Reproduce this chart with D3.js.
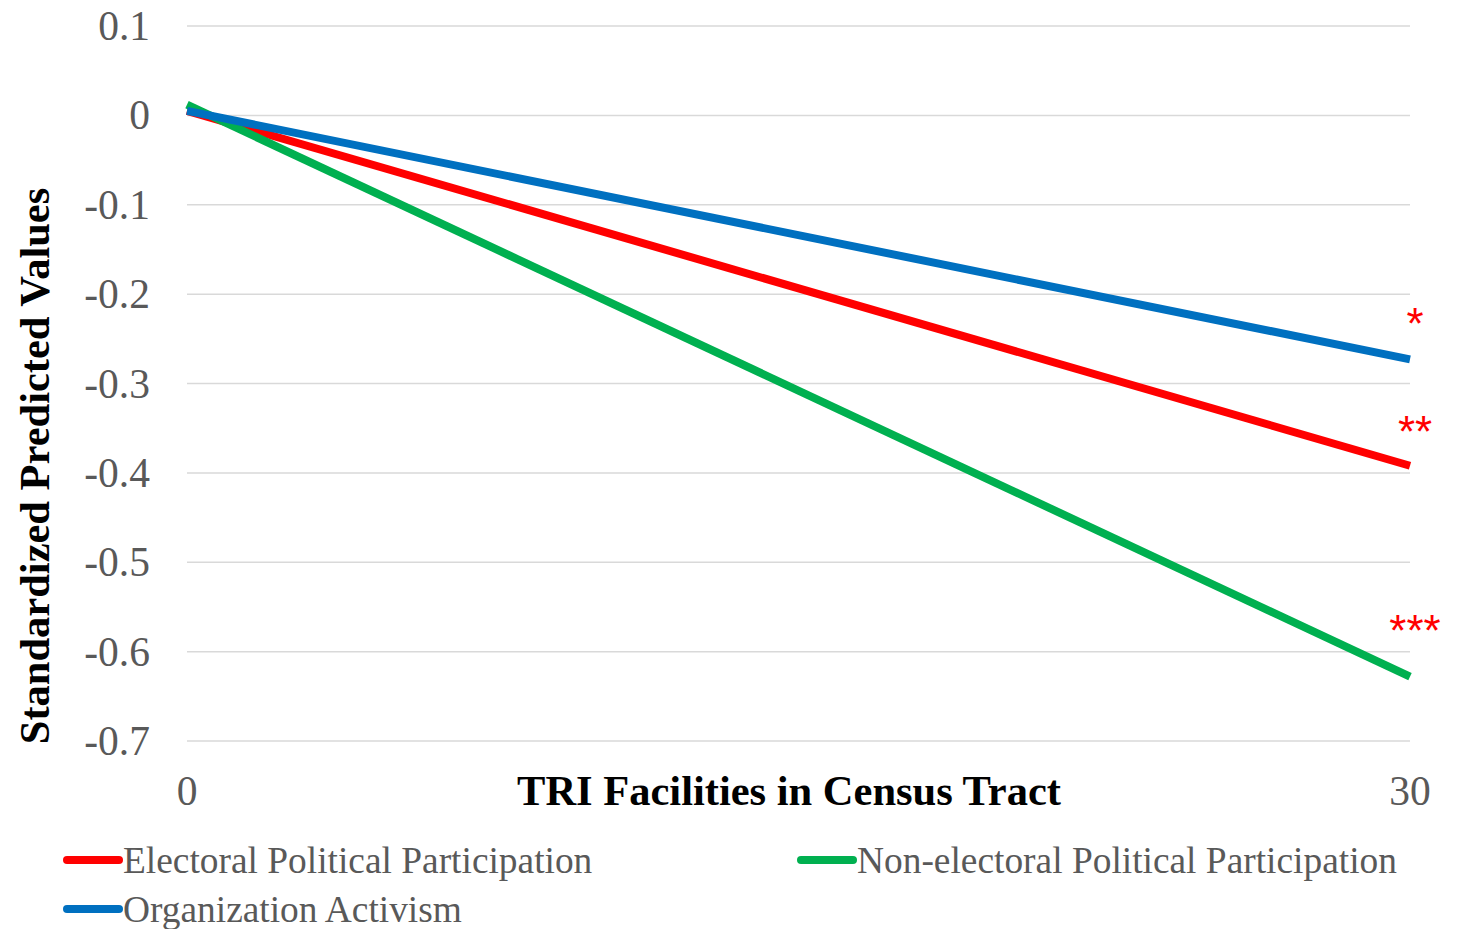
<!DOCTYPE html>
<html><head><meta charset="utf-8">
<script src="https://cdn.jsdelivr.net/npm/d3@7"></script>
<style>body{margin:0;background:#fff;} svg{display:block;}</style>
</head><body>
<svg id="c" width="1465" height="929"></svg>
<script>
const xValues = [0, 30];
const electoral = [0.005, -0.392];
const nonElectoral = [0.012, -0.628];
const organization = [0.005, -0.273];
const yTicks = [0.1, 0, -0.1, -0.2, -0.3, -0.4, -0.5, -0.6, -0.7];
const xTicks = [0, 30];
const seriesNames = ["Electoral Political Participation", "Non-electoral Political Participation", "Organization Activism"];
const seriesColors = ["#ff0000", "#00b050", "#0070c0"];
const stars = ["**", "***", "*"];

const series = [electoral, nonElectoral, organization];
const svg = d3.select("#c");
const x = d3.scaleLinear().domain([0, 30]).range([187, 1410]);
const y = d3.scaleLinear().domain([-0.7, 0.1]).range([741, 26]);
const serif = "'Liberation Serif','Times New Roman',serif";

// gridlines
svg.append("g").selectAll("line").data(yTicks).join("line")
  .attr("x1", x(0)).attr("x2", x(30))
  .attr("y1", d => y(d)).attr("y2", d => y(d))
  .attr("stroke", "#d9d9d9").attr("stroke-width", 1.5);

// y tick labels
svg.append("g").selectAll("text").data(yTicks).join("text")
  .attr("x", 150).attr("y", d => y(d) + 14)
  .attr("text-anchor", "end")
  .attr("font-family", serif).attr("font-size", 41.5).attr("fill", "#595959")
  .text(d => d === 0 ? "0" : d3.format(".1f")(d).replace("−", "-"));

// x tick labels
svg.append("g").selectAll("text").data(xTicks).join("text")
  .attr("x", d => x(d)).attr("y", 805)
  .attr("text-anchor", "middle")
  .attr("font-family", serif).attr("font-size", 41.5).attr("fill", "#595959")
  .text(d => d);

// axis titles
svg.append("text").attr("x", 789).attr("y", 805).attr("text-anchor", "middle")
  .attr("font-family", serif).attr("font-weight", "bold").attr("font-size", 42.5).attr("fill", "#000")
  .text("TRI Facilities in Census Tract");
svg.append("text").attr("transform", "translate(49,466) rotate(-90)").attr("text-anchor", "middle")
  .attr("font-family", serif).attr("font-weight", "bold").attr("font-size", 42.5).attr("fill", "#000")
  .text("Standardized Predicted Values");

// lines
const line = d3.line().x((d, i) => x(xValues[i])).y(d => y(d));
svg.append("g").selectAll("path").data(series).join("path")
  .attr("d", d => line(d))
  .attr("fill", "none")
  .attr("stroke", (d, i) => seriesColors[i])
  .attr("stroke-width", 8)
  .attr("stroke-linecap", "butt");

// significance stars
const starY = [423, 622, 315];
svg.append("g").selectAll("text").data(stars).join("text")
  .attr("x", 1415).attr("y", (d, i) => starY[i] + 24)
  .attr("text-anchor", "middle")
  .attr("font-family", "'Liberation Sans',Arial,sans-serif").attr("font-size", 44).attr("fill", "#ff0000")
  .text(d => d);

// legend
const legPos = [[63, 860], [797, 860], [63, 909]];
const lg = svg.append("g").selectAll("g").data(seriesNames).join("g")
  .attr("transform", (d, i) => `translate(${legPos[i][0]},${legPos[i][1]})`);
lg.append("line").attr("x1", 4).attr("x2", 56).attr("y1", 0).attr("y2", 0)
  .attr("stroke", (d, i) => seriesColors[i]).attr("stroke-width", 8).attr("stroke-linecap", "round");
lg.append("text").attr("x", 60).attr("y", 13)
  .attr("font-family", serif).attr("font-size", 37.4).attr("fill", "#595959")
  .text(d => d);
</script>
</body></html>
